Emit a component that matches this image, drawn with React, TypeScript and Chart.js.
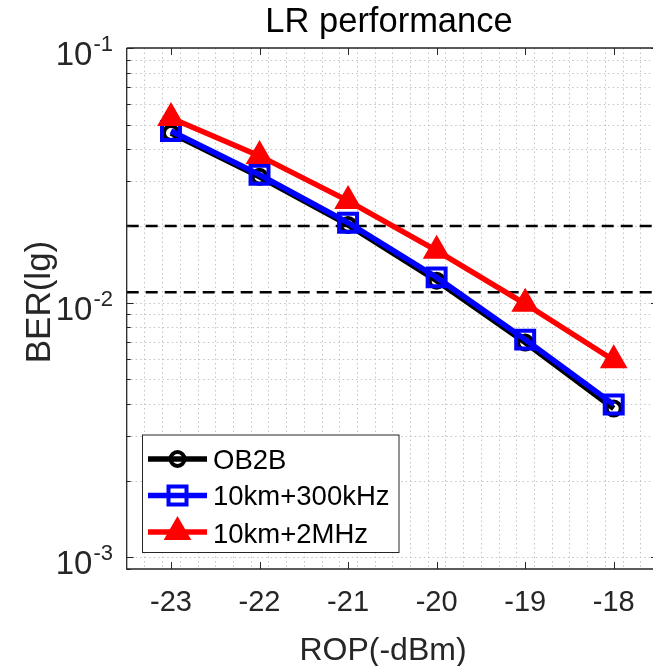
import React, { useEffect, useRef } from "react";
import { Chart, registerables } from "chart.js";

Chart.register(...registerables);

// ---- data ----
const ropValues = [-23, -22, -21, -20, -19, -18];
const xTickLabels = ["-23", "-22", "-21", "-20", "-19", "-18"];
const berOB2B = [0.0464, 0.0312, 0.0202, 0.0122, 0.00697, 0.00384];
const ber300k = [0.0472, 0.0318, 0.0206, 0.01257, 0.00716, 0.00398];
const ber2M = [0.0531, 0.0377, 0.0251, 0.016, 0.0099, 0.00594];
const thresholds = [0.02, 0.011];
const seriesNames = ["OB2B", "10km+300kHz", "10km+2MHz"];
const yTickExponents = [-1, -2, -3];
const xRange = [-23.5, -17.5];
const yRange = [0.0009, 0.1];
const titleText = "LR performance";
const xTitle = "ROP(-dBm)";
const yTitle = "BER(lg)";

const FONT = '"Liberation Sans", Arial, Helvetica, sans-serif';
const AX = "#262626";

function drawMarker(ctx: CanvasRenderingContext2D, kind: string, x: number, y: number) {
  ctx.save();
  ctx.setLineDash([]);
  if (kind === "circle") {
    ctx.strokeStyle = "#000";
    ctx.lineWidth = 4;
    ctx.beginPath();
    ctx.arc(x, y, 7, 0, Math.PI * 2);
    ctx.stroke();
  } else if (kind === "rect") {
    ctx.strokeStyle = "#0000ff";
    ctx.lineWidth = 4;
    const s = 9;
    ctx.strokeRect(x - s, y - s, 2 * s, 2 * s);
  } else {
    const r = 14;
    ctx.fillStyle = "#ff0000";
    ctx.strokeStyle = "#ff0000";
    ctx.lineWidth = 2;
    ctx.beginPath();
    for (let k = 0; k < 3; k++) {
      const ang = (k * 2 * Math.PI) / 3;
      const px = x + Math.sin(ang) * r;
      const py = y - Math.cos(ang) * r;
      if (k === 0) ctx.moveTo(px, py);
      else ctx.lineTo(px, py);
    }
    ctx.closePath();
    ctx.fill();
    ctx.stroke();
  }
  ctx.restore();
}

const decorPlugin = {
  id: "decor",
  beforeDatasetsDraw(chart: any) {
    const { ctx, chartArea: a, scales } = chart;
    const x = scales.x;
    const y = scales.y;
    ctx.save();
    ctx.strokeStyle = "#c4c4c4";
    ctx.lineWidth = 1;
    ctx.setLineDash([1.5, 3]);
    const n = Math.round((xRange[1] - xRange[0]) / 0.2);
    for (let i = 1; i < n; i++) {
      const v = xRange[0] + i * 0.2;
      const px = Math.round(x.getPixelForValue(v)) + 0.5;
      ctx.beginPath();
      ctx.moveTo(px, a.top);
      ctx.lineTo(px, a.bottom);
      ctx.stroke();
    }
    for (let e = -4; e <= -1; e++) {
      for (let m = 1; m <= 9; m++) {
        const v = m * Math.pow(10, e);
        if (v <= yRange[0] * 1.0001 || v >= yRange[1] * 0.9999) continue;
        const py = Math.round(y.getPixelForValue(v)) + 0.5;
        ctx.beginPath();
        ctx.moveTo(a.left, py);
        ctx.lineTo(a.right, py);
        ctx.stroke();
      }
    }
    ctx.restore();
  },
  afterDatasetsDraw(chart: any) {
    const { ctx, chartArea: a, scales } = chart;
    const x = scales.x;
    const y = scales.y;
    ctx.save();
    ctx.setLineDash([]);
    ctx.strokeStyle = AX;
    ctx.lineWidth = 1.3;
    ctx.beginPath();
    ctx.moveTo(a.left, a.top);
    ctx.lineTo(a.right, a.top);
    ctx.moveTo(a.left, a.top);
    ctx.lineTo(a.left, a.bottom);
    ctx.lineTo(a.right, a.bottom);
    ctx.moveTo(a.right, a.top);
    ctx.lineTo(a.right, a.bottom);
    ctx.stroke();
    ctx.lineWidth = 1;
    ropValues.forEach((v) => {
      const px = Math.round(x.getPixelForValue(v)) + 0.5;
      ctx.beginPath();
      ctx.moveTo(px, a.bottom);
      ctx.lineTo(px, a.bottom - 7);
      ctx.moveTo(px, a.top);
      ctx.lineTo(px, a.top + 7);
      ctx.stroke();
    });
    for (let e = -4; e <= -1; e++) {
      for (let m = 1; m <= 9; m++) {
        const v = m * Math.pow(10, e);
        if (v < yRange[0] * 0.9999 || v > yRange[1] * 1.0001) continue;
        const py = Math.round(y.getPixelForValue(v)) + 0.5;
        const len = m === 1 ? 7 : 4;
        ctx.beginPath();
        ctx.moveTo(a.left, py);
        ctx.lineTo(a.left + len, py);
        ctx.moveTo(a.right, py);
        ctx.lineTo(a.right - len, py);
        ctx.stroke();
      }
    }
    ctx.fillStyle = AX;
    ctx.font = `29px ${FONT}`;
    ctx.textAlign = "center";
    ctx.textBaseline = "alphabetic";
    ropValues.forEach((v, i) => {
      ctx.fillText(xTickLabels[i], x.getPixelForValue(v), a.bottom + 42);
    });
    yTickExponents.forEach((e) => {
      const py = y.getPixelForValue(Math.pow(10, e));
      const supRight = a.left - 13.7;
      ctx.font = `22px ${FONT}`;
      ctx.textAlign = "right";
      const sup = String(e);
      const sw = ctx.measureText(sup).width;
      ctx.fillText(sup, supRight, py + 3);
      ctx.font = `33px ${FONT}`;
      ctx.fillText("10", supRight - sw - 1, py + 17);
    });
    ctx.font = `32px ${FONT}`;
    ctx.textAlign = "center";
    ctx.fillText(xTitle, 383, 660);
    ctx.save();
    ctx.translate(50, 302);
    ctx.rotate(-Math.PI / 2);
    ctx.font = `35px ${FONT}`;
    ctx.fillText(yTitle, 0, 0);
    ctx.restore();
    ctx.fillStyle = "#000";
    ctx.font = `34.5px ${FONT}`;
    ctx.fillText(titleText, 389, 32);

    const lx0 = 142.5, ly0 = 435, lx1 = 399, ly1 = 552.5;
    ctx.fillStyle = "#fff";
    ctx.fillRect(lx0, ly0, lx1 - lx0, ly1 - ly0);
    ctx.strokeStyle = AX;
    ctx.lineWidth = 1;
    ctx.strokeRect(lx0, ly0, lx1 - lx0, ly1 - ly0);
    const rowsY = [459, 495.5, 532];
    const baseY = [468.5, 505, 542.5];
    const colors = ["#000000", "#0000ff", "#ff0000"];
    const kinds = ["circle", "rect", "triangle"];
    seriesNames.forEach((name, i) => {
      ctx.strokeStyle = colors[i];
      ctx.lineWidth = 5.5;
      ctx.beginPath();
      ctx.moveTo(148, rowsY[i]);
      ctx.lineTo(207, rowsY[i]);
      ctx.stroke();
      drawMarker(ctx, kinds[i], 177.5, rowsY[i]);
      ctx.fillStyle = "#000";
      ctx.font = `27.5px ${FONT}`;
      ctx.textAlign = "left";
      ctx.fillText(name, 213, baseY[i]);
    });
    ctx.restore();
  },
};

export default function App() {
  const ref = useRef<HTMLCanvasElement | null>(null);
  useEffect(() => {
    if (!ref.current) return;
    const mk = (vals: number[]) => ropValues.map((xv, i) => ({ x: xv, y: vals[i] }));
    const thresholdSets = thresholds.map((t) => ({
      label: "thr",
      data: [
        { x: xRange[0], y: t },
        { x: xRange[1], y: t },
      ],
      borderColor: "#000",
      borderWidth: 2.5,
      borderDash: [12, 7],
      pointRadius: 0,
      order: 10,
    }));
    const chart = new Chart(ref.current, {
      type: "line",
      data: {
        datasets: [
          {
            label: seriesNames[0],
            data: mk(berOB2B),
            borderColor: "#000000",
            borderWidth: 5.5,
            pointStyle: "circle",
            pointRadius: 7,
            pointBorderWidth: 4,
            pointBorderColor: "#000000",
            pointBackgroundColor: "rgba(0,0,0,0)",
            tension: 0,
            order: 3,
          },
          {
            label: seriesNames[1],
            data: mk(ber300k),
            borderColor: "#0000ff",
            borderWidth: 5.5,
            pointStyle: "rect",
            pointRadius: 12.7,
            pointBorderWidth: 4,
            pointBorderColor: "#0000ff",
            pointBackgroundColor: "rgba(0,0,0,0)",
            tension: 0,
            order: 2,
          },
          {
            label: seriesNames[2],
            data: mk(ber2M),
            borderColor: "#ff0000",
            borderWidth: 5.5,
            pointStyle: "triangle",
            pointRadius: 14,
            pointBorderWidth: 2,
            pointBorderColor: "#ff0000",
            pointBackgroundColor: "#ff0000",
            tension: 0,
            order: 1,
          },
          ...thresholdSets,
        ] as any,
      },
      options: {
        animation: false,
        responsive: false,
        events: [],
        layout: { padding: { left: 126.7, top: 48, right: 22, bottom: 97 } },
        scales: {
          x: { type: "linear", min: xRange[0], max: xRange[1], display: false },
          y: { type: "logarithmic", min: yRange[0], max: yRange[1], display: false },
        },
        plugins: {
          legend: { display: false },
          tooltip: { enabled: false },
          title: { display: false },
        },
      },
      plugins: [decorPlugin],
    } as any);
    return () => chart.destroy();
  }, []);
  return (
    <div
      style={{
        position: "fixed",
        left: 0,
        top: 0,
        width: 653,
        height: 666,
        overflow: "hidden",
        background: "#fff",
      }}
    >
      <canvas ref={ref} width={680} height={666} style={{ display: "block", width: 680, height: 666 }} />
    </div>
  );
}
